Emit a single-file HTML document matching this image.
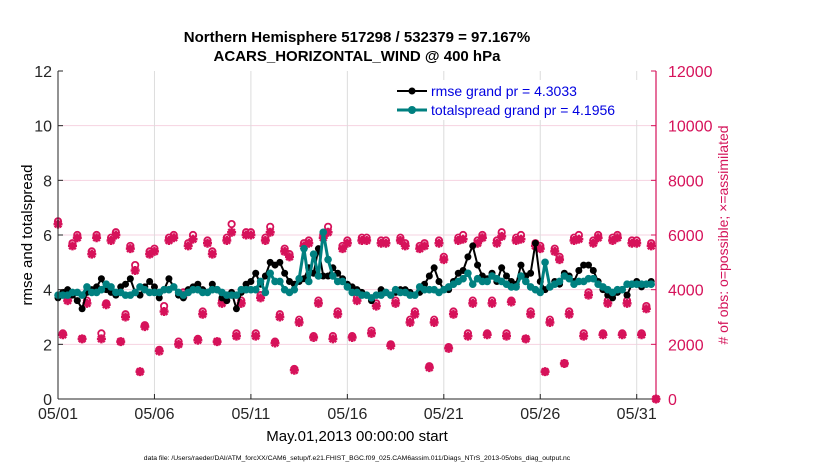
<!DOCTYPE html>
<html><head><meta charset="utf-8"><style>
body{margin:0;background:#fff;}
svg{display:block;font-family:"Liberation Sans",sans-serif;}
</style></head><body>
<svg id="chart" width="830" height="470" viewBox="0 0 830 470" xmlns="http://www.w3.org/2000/svg">
<rect width="830" height="470" fill="#fff"/>
<text x="357" y="42" text-anchor="middle" font-size="15" font-weight="bold">Northern Hemisphere 517298 / 532379 = 97.167%</text>
<text x="357" y="61" text-anchor="middle" font-size="15" font-weight="bold">ACARS_HORIZONTAL_WIND @ 400 hPa</text>
<g id="grid"></g>
<g id="marks"></g>
<g id="axes"></g>
<text transform="translate(32,235) rotate(-90)" text-anchor="middle" font-size="15">rmse and totalspread</text>
<text transform="translate(728,235) rotate(-90)" text-anchor="middle" font-size="14" fill="#d4145a">
# of obs: o=possible; ×=assimilated</text>
<text x="357" y="441" text-anchor="middle" font-size="15">May.01,2013 00:00:00 start</text>
<text x="357" y="460" text-anchor="middle" font-size="6.8">data file: /Users/raeder/DAI/ATM_forcXX/CAM6_setup/f.e21.FHIST_BGC.f09_025.CAM6assim.011/Diags_NTrS_2013-05/obs_diag_output.nc</text>
<g>
<rect x="390" y="80" width="262" height="40" fill="#fff"/>
<g>
<line x1="397" y1="91" x2="427" y2="91" stroke="#000" stroke-width="2"/><circle cx="412" cy="91" r="3.5" fill="#000"/>
<text x="431" y="96" font-size="14" fill="#0000e0">rmse grand pr = 4.3033</text></g>
<g>
<line x1="397" y1="110" x2="427" y2="110" stroke="#008080" stroke-width="3"/><circle cx="412" cy="110" r="4" fill="#008080"/>
<text x="431" y="115" font-size="14" fill="#0000e0">totalspread grand pr = 4.1956</text></g>
</g>
</svg>
<script>
const rmse=[3.7,3.9,4.0,3.8,3.6,3.3,3.9,4.0,4.1,4.4,4.0,3.9,3.8,4.1,4.2,4.4,3.9,3.8,4.1,4.3,
4.1,3.7,4.0,4.4,4.1,3.8,3.7,4.0,4.1,4.2,4.0,3.9,4.2,4.0,3.7,3.6,3.9,3.3,3.9,4.2,
4.3,4.6,4.2,4.5,5.0,4.9,5.0,4.6,4.3,4.2,4.3,4.4,4.8,4.6,5.5,4.5,4.5,4.8,4.6,4.4,
4.2,4.1,4.0,3.9,3.8,3.6,3.8,4.0,3.9,3.8,3.9,4.0,4.0,3.9,3.8,3.9,4.2,4.5,4.8,4.3,
4.0,4.0,4.3,4.6,4.7,5.2,5.6,4.9,4.5,4.4,4.6,4.3,4.8,4.5,4.3,4.2,4.9,4.5,4.6,5.7,
4.3,4.0,4.1,4.3,4.2,4.6,4.5,4.3,4.7,4.9,4.9,4.7,4.3,4.0,3.8,3.7,3.9,4.0,3.8,4.2,
4.3,4.1,4.2,4.3];
const spread=[3.8,3.8,3.8,3.9,3.9,3.8,4.1,3.9,3.9,4.0,4.2,4.1,3.9,3.9,3.8,3.8,3.9,4.1,4.0,3.9,
3.9,3.9,4.0,4.0,4.1,3.9,3.8,3.9,4.0,4.0,3.9,3.9,4.0,4.0,3.9,3.8,3.8,3.8,4.0,4.0,
4.0,4.0,4.3,3.9,4.6,4.3,4.3,4.0,3.9,4.0,4.4,5.5,4.3,5.3,4.5,6.1,5.1,4.5,4.3,4.3,
4.1,3.9,3.9,3.8,3.8,3.7,3.8,3.8,3.9,3.8,4.0,3.9,3.9,3.8,3.8,4.1,4.0,4.0,4.0,3.9,
4.0,4.1,4.2,4.3,4.4,4.6,4.2,4.4,4.3,4.3,4.5,4.4,4.3,4.2,4.1,4.1,4.5,4.3,4.1,4.0,
3.9,5.0,4.1,4.2,4.3,4.5,4.4,4.2,4.3,4.3,4.4,4.4,4.2,4.1,4.0,3.9,4.0,4.0,4.2,4.2,
4.2,4.2,4.2,4.2];
const nPossible=[6500,2400,3700,5700,6000,2200,3600,5400,6000,2400,3500,5900,6100,2100,3100,5600,4900,1000,2700,5400,
5500,1800,3400,5900,6000,2100,3900,5700,6000,2200,3200,5800,5400,2100,3600,5900,6400,2400,3600,6100,
6100,2400,3800,5900,6300,2100,3100,5500,5300,1100,2900,5700,5800,2300,3600,6000,6300,2300,3200,5600,
5800,2300,3700,5900,5900,2500,3500,5800,5800,2000,3600,5900,5700,2900,3200,5600,5700,1200,2900,5800,
5200,1900,3200,5900,6000,2400,3600,5800,6000,2400,3600,5800,6100,2400,3600,5900,6000,2200,3200,5700,
5600,1000,2900,5500,5200,1300,3200,5900,6000,2400,3900,5800,6000,2400,3600,5900,6000,2400,3600,5800,
5800,2400,3400,5700,0];
const nUsed=[6400,2350,3600,5600,5900,2200,3500,5300,5900,2200,3450,5800,6000,2100,3000,5500,4700,1000,2650,5300,
5400,1750,3200,5800,5900,2000,3800,5600,5850,2150,3100,5700,5300,2100,3500,5800,6100,2300,3500,6000,
6000,2300,3700,5800,6100,2050,3000,5400,5200,1050,2800,5600,5700,2250,3500,5900,6100,2200,3100,5500,
5700,2250,3600,5800,5800,2400,3400,5700,5700,1950,3500,5800,5600,2800,3100,5500,5600,1150,2800,5700,
5100,1850,3100,5800,5850,2300,3500,5700,5900,2350,3500,5700,5950,2300,3550,5800,5850,2200,3100,5600,
5500,1000,2800,5400,5100,1300,3100,5800,5850,2300,3800,5700,5900,2350,3500,5800,5900,2350,3500,5700,
5700,2350,3300,5600,0];
const xTickLabels=["05/01","05/06","05/11","05/16","05/21","05/26","05/31"];
const yLeftTicks=[0,2,4,6,8,10,12];
const yRightTicks=[0,2000,4000,6000,8000,10000,12000];

const NS="http://www.w3.org/2000/svg";
const L=58,R=656,T=71,B=399;
const xScale=d=>L+(d/31)*(R-L);
const yL=v=>B-(v/12)*(B-T);
const yR=v=>B-(v/12000)*(B-T);
function mk(tag,attrs,parent){const e=document.createElementNS(NS,tag);for(const k in attrs)e.setAttribute(k,attrs[k]);parent.appendChild(e);return e;}
const grid=document.getElementById('grid'),marks=document.getElementById('marks'),axes=document.getElementById('axes');
yRightTicks.forEach((t,i)=>{if(i===0||i===yRightTicks.length-1)return;
 const g=mk('line',{x1:L,x2:R,y1:yR(t),y2:yR(t),stroke:'#f6d3e1','stroke-width':1},grid);
 
 });
xTickLabels.forEach((t,i)=>{if(i===0)return;
 const g=mk('line',{x1:xScale(i*5),x2:xScale(i*5),y1:T,y2:B,stroke:'#dcdcdc','stroke-width':1},grid);
 
 });
const oc='#d6125a';
nPossible.forEach((v,i)=>{const x=xScale(i*0.25),y=yR(v);
 const c=mk('circle',{cx:x,cy:y,r:3.2,fill:'#fff',stroke:oc,'stroke-width':1.8},marks);
 
 });
nUsed.forEach((v,i)=>{const x=xScale(i*0.25),y=yR(v);
 const s=mk('path',{d:`M${x-4.5},${y}H${x+4.5}M${x},${y-4.5}V${y+4.5}M${x-3.3},${y-3.3}L${x+3.3},${y+3.3}M${x-3.3},${y+3.3}L${x+3.3},${y-3.3}`,stroke:oc,'stroke-width':2.5,fill:'none'},marks);
 
 });
function series(arr,color,w,r,name){
 const p=mk('polyline',{points:arr.map((v,i)=>xScale(i*0.25)+','+yL(v)).join(' '),fill:'none',stroke:color,'stroke-width':w,'stroke-linejoin':'round'},marks);
 
 
 arr.forEach((v,i)=>{const c=mk('circle',{cx:xScale(i*0.25),cy:yL(v),r:r,fill:color},marks);
  
  });
}
series(rmse,'#000',2,3.5,'rmse');
series(spread,'#008080',3,3.8,'totalspread');
mk('line',{x1:L,x2:L,y1:T,y2:B,stroke:'#262626','stroke-width':1},axes);
mk('line',{x1:L,x2:R,y1:B,y2:B,stroke:'#262626','stroke-width':1},axes);
mk('line',{x1:R,x2:R,y1:T,y2:B,stroke:oc,'stroke-width':1.2},axes);
yLeftTicks.forEach(t=>{
 mk('line',{x1:L,x2:L+5,y1:yL(t),y2:yL(t),stroke:'#262626'},axes);
 const tx=mk('text',{x:L-6,y:yL(t)+6,'text-anchor':'end','font-size':16,fill:'#262626'},axes);tx.textContent=t;
 
 });
yRightTicks.forEach(t=>{
 mk('line',{x1:R-5,x2:R,y1:yR(t),y2:yR(t),stroke:oc},axes);
 const tx=mk('text',{x:R+12,y:yR(t)+6,'font-size':16,fill:oc},axes);tx.textContent=t;
 
 });
xTickLabels.forEach((t,i)=>{const x=xScale(i*5);
 mk('line',{x1:x,x2:x,y1:B,y2:B-5,stroke:'#262626'},axes);
 const tx=mk('text',{x:x,y:B+20,'text-anchor':'middle','font-size':16,fill:'#262626'},axes);tx.textContent=t;
 
 });
</script>
</body></html>
